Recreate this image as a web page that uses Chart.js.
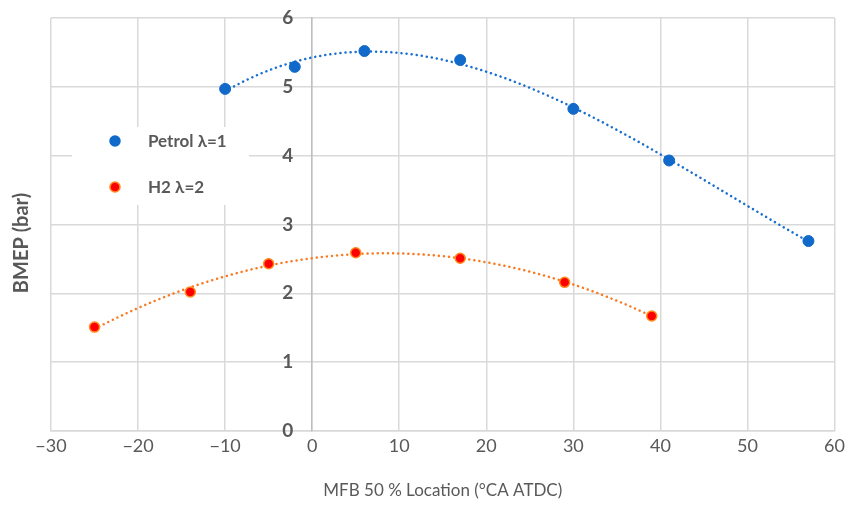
<!DOCTYPE html>
<html lang="en">
<head>
    <meta charset="UTF-8">
    <title>BMEP vs MFB 50 % Location</title>
    <script src="https://cdn.jsdelivr.net/npm/chart.js"></script>
    <style>
        html, body { margin: 0; padding: 0; background: #fff; }
        #wrap { width: 849px; height: 510px; }
    </style>
</head>
<body>
    <div id="wrap"><canvas id="bmepChart" width="849" height="510"></canvas></div>
    <script>
        // Data
        const petrolX = [-10, -2, 6, 17, 30, 41, 57];
        const petrolY = [4.97, 5.29, 5.52, 5.39, 4.68, 3.93, 2.76];
        const h2X = [-25, -14, -5, 5, 17, 29, 39];
        const h2Y = [1.51, 2.02, 2.43, 2.59, 2.51, 2.16, 1.67];
        const seriesNames = ["Petrol λ=1", "H2 λ=2"];
        const xTicks = [-30, -20, -10, 0, 10, 20, 30, 40, 50, 60];
        const yTicks = [0, 1, 2, 3, 4, 5, 6];

        const textGrey = "#595959";
        const gridGrey = "#d9d9d9";
        const fontName = "Lato, 'Open Sans', sans-serif";

        function toPoints(xs, ys) {
            return xs.map((x, i) => ({ x: x, y: ys[i] }));
        }

        // least squares polynomial fit (Excel style trendline)
        function polyFit(xs, ys, order) {
            const n = order + 1;
            const A = [];
            for (let r = 0; r < n; r++) {
                A.push([]);
                for (let c = 0; c < n; c++) {
                    A[r].push(xs.reduce((s, x) => s + Math.pow(x, r + c), 0));
                }
                A[r].push(xs.reduce((s, x, i) => s + ys[i] * Math.pow(x, r), 0));
            }
            for (let i = 0; i < n; i++) {
                let p = i;
                for (let k = i + 1; k < n; k++) if (Math.abs(A[k][i]) > Math.abs(A[p][i])) p = k;
                [A[i], A[p]] = [A[p], A[i]];
                for (let k = i + 1; k < n; k++) {
                    const f = A[k][i] / A[i][i];
                    for (let j = i; j <= n; j++) A[k][j] -= f * A[i][j];
                }
            }
            const coef = new Array(n).fill(0);
            for (let i = n - 1; i >= 0; i--) {
                let s = A[i][n];
                for (let j = i + 1; j < n; j++) s -= A[i][j] * coef[j];
                coef[i] = s / A[i][i];
            }
            return x => coef.reduce((s, c, i) => s + c * Math.pow(x, i), 0);
        }

        const trendlines = [
            { xs: petrolX, fn: polyFit(petrolX, petrolY, 3), color: "#1a6fcf" },
            { xs: h2X, fn: polyFit(h2X, h2Y, 2), color: "#f97a22" }
        ];

        const trendPlugin = {
            id: "trendPlugin",
            beforeDatasetsDraw(chart) {
                const ctx = chart.ctx;
                const xs = chart.scales.x, ys = chart.scales.y;
                ctx.save();
                trendlines.forEach(t => {
                    const p0 = xs.getPixelForValue(Math.min(...t.xs));
                    const p1 = xs.getPixelForValue(Math.max(...t.xs));
                    ctx.beginPath();
                    for (let px = p0; px <= p1 + 0.01; px += 1) {
                        const py = ys.getPixelForValue(t.fn(xs.getValueForPixel(px)));
                        if (px === p0) ctx.moveTo(px, py); else ctx.lineTo(px, py);
                    }
                    ctx.strokeStyle = t.color;
                    ctx.lineWidth = 2.5;
                    ctx.lineCap = "round";
                    ctx.setLineDash([0.1, 5]);
                    ctx.stroke();
                });
                ctx.restore();
            },
            afterDatasetsDraw(chart) {
                const ctx = chart.ctx;
                const xs = chart.scales.x, ys = chart.scales.y;
                ctx.save();
                // y tick labels, left of the axis that crosses at x = 0
                ctx.fillStyle = textGrey;
                ctx.font = "bold 19px " + fontName;
                ctx.textAlign = "right";
                ctx.textBaseline = "middle";
                const axisPx = xs.getPixelForValue(0);
                yTicks.forEach(v => ctx.fillText(String(v), axisPx - 19, ys.getPixelForValue(v)));
                // legend box over the grid
                ctx.fillStyle = "#fff";
                ctx.fillRect(72, 127, 177, 78);
                const items = [
                    { y: 141, fill: "#1169c9", border: "#1169c9" },
                    { y: 187, fill: "#ff0000", border: "#ff8a1c" }
                ];
                ctx.textAlign = "left";
                items.forEach((it, i) => {
                    ctx.beginPath();
                    ctx.arc(115, it.y, 5, 0, Math.PI * 2);
                    ctx.fillStyle = it.fill;
                    ctx.fill();
                    ctx.lineWidth = 1.5;
                    ctx.strokeStyle = it.border;
                    ctx.stroke();
                    ctx.fillStyle = textGrey;
                    ctx.font = "bold 17px " + fontName;
                    ctx.fillText(seriesNames[i], 148, it.y + 1);
                });
                // y axis title
                ctx.translate(22, 243);
                ctx.rotate(-Math.PI / 2);
                ctx.textAlign = "center";
                ctx.font = "bold 20px " + fontName;
                ctx.fillStyle = textGrey;
                ctx.fillText("BMEP (bar)", 0, 0);
                ctx.restore();
            }
        };

        new Chart(document.getElementById("bmepChart"), {
            type: "scatter",
            data: {
                datasets: [
                    {
                        label: seriesNames[0],
                        data: toPoints(petrolX, petrolY),
                        backgroundColor: "#1169c9",
                        borderColor: "#1169c9",
                        pointRadius: 5.5,
                        borderWidth: 1
                    },
                    {
                        label: seriesNames[1],
                        data: toPoints(h2X, h2Y),
                        backgroundColor: "#ff0000",
                        borderColor: "#ff8a1c",
                        pointRadius: 5,
                        borderWidth: 1.5
                    }
                ]
            },
            options: {
                responsive: false,
                animation: false,
                layout: { padding: { left: 51, right: 8, top: 18, bottom: 9 } },
                plugins: {
                    legend: { display: false },
                    tooltip: { enabled: false }
                },
                scales: {
                    x: {
                        type: "linear",
                        min: xTicks[0],
                        max: xTicks[xTicks.length - 1],
                        afterBuildTicks: s => { s.ticks = xTicks.map(v => ({ value: v })); },
                        grid: { color: gridGrey, lineWidth: 1.5, drawTicks: false },
                        border: { color: gridGrey, width: 1.5 },
                        ticks: {
                            padding: 4,
                            color: textGrey,
                            font: { family: fontName, size: 18 },
                            callback: v => String(v).replace("-", "\u2212")
                        },
                        title: {
                            display: true,
                            text: "MFB 50 % Location (°CA ATDC)",
                            color: textGrey,
                            font: { family: fontName, size: 17 },
                            padding: { top: 20, bottom: 0 }
                        }
                    },
                    y: {
                        type: "linear",
                        position: { x: 0 },
                        min: yTicks[0],
                        max: yTicks[yTicks.length - 1],
                        afterBuildTicks: s => { s.ticks = yTicks.map(v => ({ value: v })); },
                        grid: { color: gridGrey, lineWidth: 1.5, drawTicks: false },
                        border: { color: "#bfbfbf", width: 1.5 },
                        ticks: { display: false }
                    }
                }
            },
            plugins: [trendPlugin]
        });
    </script>
</body>
</html>
